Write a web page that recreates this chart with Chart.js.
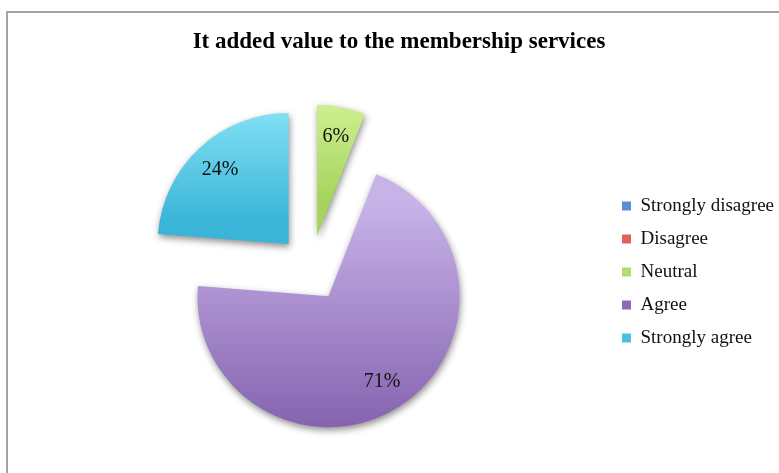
<!DOCTYPE html>
<html>
<head>
<meta charset="utf-8">
<script src="https://cdn.jsdelivr.net/npm/chart.js@4"></script>
<style>
  body { margin: 0; background: #fff; overflow: hidden; }
  #frame { position: absolute; left: 6px; top: 11px; width: 820px; height: 520px; border: 2px solid #a3a3a3; }
  #surveyChart { position: absolute; left: 0; top: 0; }
</style>
</head>
<body>
<div id="frame"></div>
<canvas id="surveyChart" width="779" height="473"></canvas>
<script>
const categories = ['Strongly disagree', 'Disagree', 'Neutral', 'Agree', 'Strongly agree'];
const responses = [0, 0, 6, 71, 24];

const legendColors = ['#5b8dd6', '#e0605c', '#b5db6e', '#8c6ab6', '#4cc1df'];
const topColors = ['#8fb4ea', '#f08f8c', '#d9f9a2', '#c8b3e9', '#91e9fb'];
const bottomColors = ['#4572b5', '#b94542', '#a5d35b', '#7d59a8', '#3ab5d8'];

const RADIUS = 131;
const SLICE_OFFSET = 33; // pixels each slice is pulled out

// Chart.js' own offset also grows the radius of big slices, so the
// explode is done here: shift the whole slice along its bisector.
const baseArcDraw = Chart.ArcElement.prototype.draw;
Chart.ArcElement.prototype.draw = function (ctx, area) {
  const mid = (this.startAngle + this.endAngle) / 2;
  ctx.save();
  ctx.translate(Math.cos(mid) * SLICE_OFFSET, Math.sin(mid) * SLICE_OFFSET);
  baseArcDraw.call(this, ctx, area);
  ctx.restore();
};

// vertical gradient spanning each exploded slice
function sliceGradient(context) {
  const i = context.dataIndex;
  const chart = context.chart;
  const area = chart.chartArea;
  if (!area) return legendColors[i];
  const total = responses.reduce((a, b) => a + b, 0);
  let start = -Math.PI / 2;
  for (let k = 0; k < i; k++) start += responses[k] / total * Math.PI * 2;
  const end = start + responses[i] / total * Math.PI * 2;
  const mid = (start + end) / 2;
  const cy = (area.top + area.bottom) / 2 + Math.sin(mid) * SLICE_OFFSET;
  const ys = [cy, cy + Math.sin(start) * RADIUS, cy + Math.sin(end) * RADIUS];
  [-Math.PI / 2, Math.PI / 2, Math.PI * 1.5].forEach(a => {
    if (a >= start && a <= end) ys.push(cy + Math.sin(a) * RADIUS);
  });
  const y0 = Math.min(...ys), y1 = Math.max(...ys);
  const g = chart.ctx.createLinearGradient(0, y0, 0, y1 > y0 ? y1 : y0 + 1);
  g.addColorStop(0, topColors[i]);
  g.addColorStop(1, bottomColors[i]);
  return g;
}

const sliceShadow = {
  id: 'sliceShadow',
  beforeDatasetsDraw(chart) {
    const ctx = chart.ctx;
    ctx.save();
    ctx.shadowColor = 'rgba(0,0,0,0.45)';
    ctx.shadowBlur = 7;
    ctx.shadowOffsetX = 1;
    ctx.shadowOffsetY = 3;
  },
  afterDatasetsDraw(chart) {
    const ctx = chart.ctx;
    ctx.restore();
    // percentage labels inside the slices
    const meta = chart.getDatasetMeta(0);
    ctx.save();
    ctx.font = '20px "Liberation Serif", "Times New Roman", serif';
    ctx.fillStyle = '#111';
    ctx.textAlign = 'center';
    ctx.textBaseline = 'middle';
    meta.data.forEach((arc, i) => {
      if (!responses[i]) return;
      const p = arc.getProps(['x', 'y', 'startAngle', 'endAngle', 'outerRadius']);
      const mid = (p.startAngle + p.endAngle) / 2;
      const dist = SLICE_OFFSET + p.outerRadius * 0.77;
      ctx.fillText(responses[i] + '%', p.x + Math.cos(mid) * dist, p.y + Math.sin(mid) * dist);
    });
    ctx.restore();
  }
};

new Chart(document.getElementById('surveyChart'), {
  type: 'pie',
  data: {
    labels: categories,
    datasets: [{
      data: responses,
      backgroundColor: sliceGradient,
      borderWidth: 0,
      offset: 0,
      hoverOffset: 0
    }]
  },
  plugins: [sliceShadow],
  options: {
    responsive: false,
    devicePixelRatio: 1,
    animation: false,
    radius: RADIUS,
    layout: { padding: { left: 14, right: -5, top: 0, bottom: 0 } },
    plugins: {
      tooltip: { enabled: false },
      title: {
        display: true,
        text: 'It added value to the membership services',
        color: '#000',
        font: { family: '"Liberation Serif", "Times New Roman", serif', size: 23, weight: 'bold' },
        padding: { top: 28, bottom: 8 }
      },
      legend: {
        position: 'right',
        // empty legend title pushes the entries down
        title: { display: true, text: ' ', font: { size: 10 }, padding: { top: 59, bottom: 0 } },
        labels: {
          boxWidth: 9,
          boxHeight: 9,
          padding: 14,
          color: '#111',
          font: { family: '"Liberation Serif", "Times New Roman", serif', size: 19 },
          generateLabels: () => categories.map((text, i) => ({
            text,
            fillStyle: legendColors[i],
            strokeStyle: legendColors[i],
            lineWidth: 0,
            hidden: false,
            index: i,
            fontColor: '#111'
          }))
        }
      }
    }
  }
});
</script>
</body>
</html>
